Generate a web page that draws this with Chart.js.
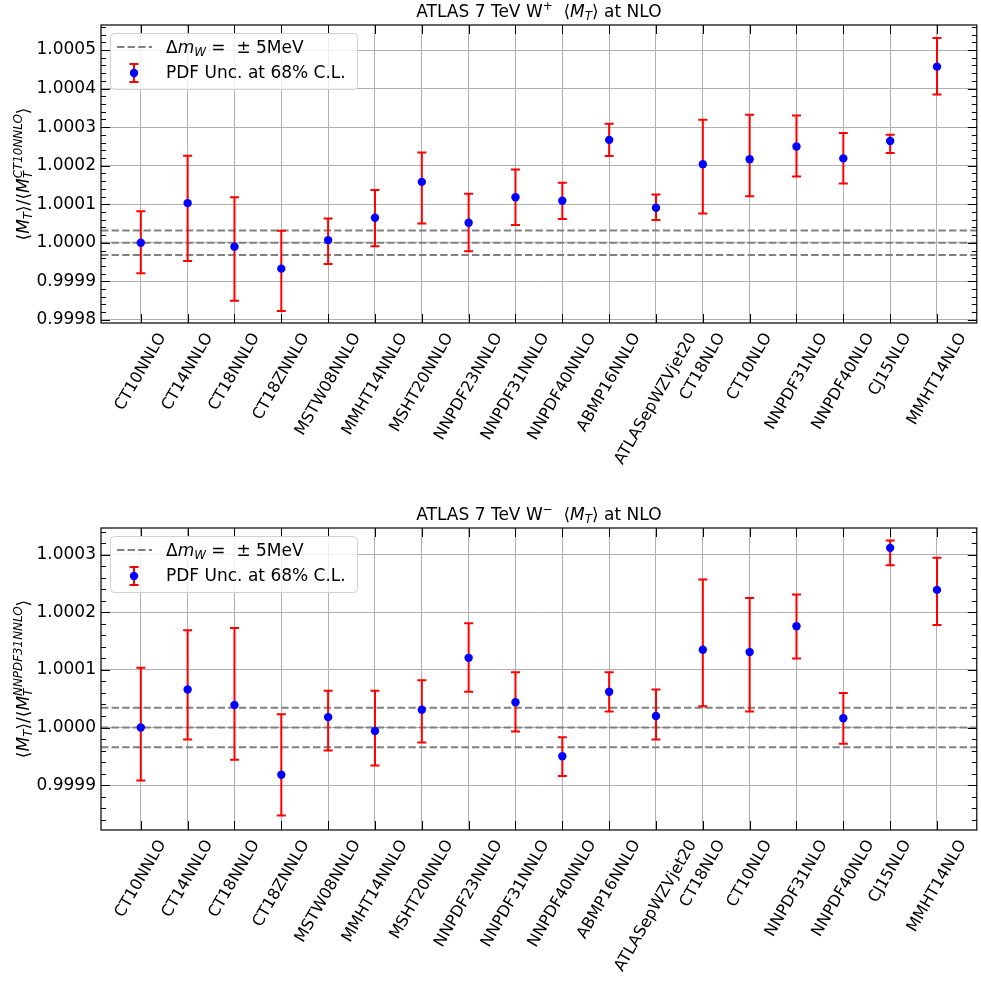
<!DOCTYPE html>
<html>
<head>
<meta charset="utf-8">
<script src="https://cdn.jsdelivr.net/npm/chart.js@4.4.1/dist/chart.umd.min.js"></script>
<style>
  body { margin: 0; background: #fff; }
  #wrap { position: relative; width: 981px; height: 985px; }
  #plus { position: absolute; left: 0; top: 0; }
  #minus { position: absolute; left: 0; top: 490px; }
</style>
</head>
<body>
<div id="wrap">
  <canvas id="plus" width="981" height="490"></canvas>
  <canvas id="minus" width="981" height="495"></canvas>
</div>
<script>
const pdfSets = ['CT10NNLO', 'CT14NNLO', 'CT18NNLO', 'CT18ZNNLO', 'MSTW08NNLO', 'MMHT14NNLO',
  'MSHT20NNLO', 'NNPDF23NNLO', 'NNPDF31NNLO', 'NNPDF40NNLO', 'ABMP16NNLO', 'ATLASepWZVjet20',
  'CT18NLO', 'CT10NLO', 'NNPDF31NLO', 'NNPDF40NLO', 'CJ15NLO', 'MMHT14NLO'];

// W+ : ratio to CT10NNLO
const wPlusCentral = [1.000000, 1.000103, 0.999990, 0.999933, 1.000007, 1.000065, 1.000158, 1.000052, 1.000118,
  1.000109, 1.000267, 1.000091, 1.000204, 1.000217, 1.000250, 1.000219, 1.000264, 1.000457];
const wPlusHigh = [1.000082, 1.000226, 1.000118, 1.000031, 1.000063, 1.000137, 1.000234, 1.000127, 1.000190,
  1.000156, 1.000309, 1.000125, 1.000319, 1.000332, 1.000330, 1.000285, 1.000280, 1.000531];
const wPlusLow = [0.999921, 0.999953, 0.999850, 0.999823, 0.999945, 0.999991, 1.000050, 0.999978, 1.000046,
  1.000062, 1.000225, 1.000059, 1.000076, 1.000121, 1.000172, 1.000154, 1.000233, 1.000385];
const wPlusBand = [0.9999682, 1.0000000, 1.0000318];
const wPlusTicks = [0.9998, 0.9999, 1.0000, 1.0001, 1.0002, 1.0003, 1.0004, 1.0005];

// W- : ratio to NNPDF31NNLO
const wMinusCentral = [1.000000, 1.000066, 1.000039, 0.999918, 1.000018, 0.999994, 1.000031, 1.000121, 1.000044,
  0.999950, 1.000062, 1.000020, 1.000135, 1.000131, 1.000176, 1.000016, 1.000312, 1.000239];
const wMinusHigh = [1.000104, 1.000169, 1.000173, 1.000023, 1.000064, 1.000064, 1.000082, 1.000181, 1.000096,
  0.999983, 1.000096, 1.000066, 1.000257, 1.000225, 1.000231, 1.000060, 1.000325, 1.000295];
const wMinusLow = [0.999908, 0.999979, 0.999944, 0.999847, 0.999960, 0.999934, 0.999974, 1.000062, 0.999993,
  0.999916, 1.000028, 0.999979, 1.000037, 1.000028, 1.000120, 0.999972, 1.000282, 1.000178];
const wMinusBand = [0.9999658, 1.0000000, 1.0000342];
const wMinusTicks = [0.9999, 1.0000, 1.0001, 1.0002, 1.0003];

const FONT = "'DejaVu Sans', sans-serif";
const xMin = -0.85, xMax = 17.85;
const minorStep = 0.00002;

function fontOf(size, it) {
  return (it ? 'italic ' : '') + size + 'px ' + FONT;
}

// small mathtext-like renderer: parts {t, it, sub, sup, supIt}
function richWidth(ctx, parts, size) {
  let w = 0;
  parts.forEach(p => {
    ctx.font = fontOf(size, p.it);
    w += ctx.measureText(p.t).width;
    let sw = 0;
    if (p.sub) { ctx.font = fontOf(size * 0.7, true); sw = Math.max(sw, ctx.measureText(p.sub).width); }
    if (p.sup) { ctx.font = fontOf(size * 0.7, p.supIt !== false); sw = Math.max(sw, ctx.measureText(p.sup).width); }
    w += sw;
  });
  return w;
}

function drawRich(ctx, parts, x, y, size) {
  let cx = x - richWidth(ctx, parts, size) / 2;
  ctx.textAlign = 'left';
  ctx.textBaseline = 'alphabetic';
  parts.forEach(p => {
    ctx.font = fontOf(size, p.it);
    ctx.fillText(p.t, cx, y);
    cx += ctx.measureText(p.t).width;
    let sw = 0;
    if (p.sub) {
      ctx.font = fontOf(size * 0.7, true);
      ctx.fillText(p.sub, cx, y + size * 0.2);
      sw = Math.max(sw, ctx.measureText(p.sub).width);
    }
    if (p.sup) {
      ctx.font = fontOf(size * 0.7, p.supIt !== false);
      ctx.fillText(p.sup, cx, y - size * 0.42);
      sw = Math.max(sw, ctx.measureText(p.sup).width);
    }
    cx += sw;
  });
}

const errorBars = {
  id: 'errorBars',
  beforeDatasetDraw(chart, args, opts) {
    if (args.index !== opts.pointIndex) return;
    const c = chart.ctx, xs = chart.scales.x, ys = chart.scales.y;
    c.save();
    c.strokeStyle = 'red';
    c.lineWidth = 2;
    opts.high.forEach((hi, i) => {
      const x = xs.getPixelForValue(i);
      const y1 = ys.getPixelForValue(hi), y2 = ys.getPixelForValue(opts.low[i]);
      c.beginPath();
      c.moveTo(x, y1); c.lineTo(x, y2);
      c.moveTo(x - 4.5, y1); c.lineTo(x + 4.5, y1);
      c.moveTo(x - 4.5, y2); c.lineTo(x + 4.5, y2);
      c.stroke();
    });
    c.restore();
  }
};

const decorations = {
  id: 'decorations',
  afterDraw(chart, args, opts) {
    const c = chart.ctx, a = chart.chartArea, xs = chart.scales.x, ys = chart.scales.y;
    c.save();
    c.fillStyle = 'black';
    c.strokeStyle = 'black';

    // inward ticks on all four sides
    c.lineWidth = 1;
    c.beginPath();
    pdfSets.forEach((_, i) => {
      const x = Math.round(xs.getPixelForValue(i)) + 0.5;
      c.moveTo(x, a.bottom); c.lineTo(x, a.bottom - 9);
      c.moveTo(x, a.top); c.lineTo(x, a.top + 9);
    });
    opts.ticks.forEach(v => {
      const y = Math.round(ys.getPixelForValue(v)) + 0.5;
      c.moveTo(a.left, y); c.lineTo(a.left + 9, y);
      c.moveTo(a.right, y); c.lineTo(a.right - 9, y);
    });
    const start = Math.ceil(ys.min / minorStep);
    for (let k = start; k * minorStep <= ys.max; k++) {
      const v = k * minorStep;
      if (opts.ticks.some(t => Math.abs(t - v) < 1e-9)) continue;
      const y = Math.round(ys.getPixelForValue(v)) + 0.5;
      c.moveTo(a.left, y); c.lineTo(a.left + 5, y);
      c.moveTo(a.right, y); c.lineTo(a.right - 5, y);
    }
    c.stroke();

    // frame
    c.lineWidth = 1.2;
    c.strokeRect(a.left, a.top, a.right - a.left, a.bottom - a.top);

    // rotated category labels
    const xf = 16;
    c.font = fontOf(xf, false);
    c.textAlign = 'center';
    c.textBaseline = 'middle';
    const s60 = Math.sin(Math.PI / 3), c60 = Math.cos(Math.PI / 3), h = xf * 1.16;
    pdfSets.forEach((name, i) => {
      const L = c.measureText(name).width;
      const ext = L * s60 + h * c60;
      c.save();
      c.translate(xs.getPixelForValue(i), a.bottom + 7 + ext / 2);
      c.rotate(-Math.PI / 3);
      c.fillText(name, 0, 0);
      c.restore();
    });

    // title
    drawRich(c, opts.title, (a.left + a.right) / 2, a.top - 8, 17);

    // y axis label
    c.save();
    c.translate(29, (a.top + a.bottom) / 2);
    c.rotate(-Math.PI / 2);
    drawRich(c, opts.ylabel, 0, 0, 17);
    c.restore();

    // legend
    const lx = a.left + 9, ly = a.top + 8, lw = 247, lh = 56;
    c.fillStyle = 'rgba(255,255,255,0.8)';
    c.strokeStyle = '#d0d0d0';
    c.lineWidth = 1;
    c.beginPath();
    c.roundRect(lx + 0.5, ly + 0.5, lw, lh, 4);
    c.fill();
    c.stroke();

    const r1 = a.top + 22, r2 = a.top + 48;
    c.strokeStyle = 'grey';
    c.lineWidth = 2;
    c.setLineDash([7.4, 3.2]);
    c.beginPath();
    c.moveTo(a.left + 16, r1); c.lineTo(a.left + 51, r1);
    c.stroke();
    c.setLineDash([]);

    const mx = a.left + 33;
    c.strokeStyle = 'red';
    c.beginPath();
    c.moveTo(mx, r2 - 9); c.lineTo(mx, r2 + 9);
    c.moveTo(mx - 4.5, r2 - 9); c.lineTo(mx + 4.5, r2 - 9);
    c.moveTo(mx - 4.5, r2 + 9); c.lineTo(mx + 4.5, r2 + 9);
    c.stroke();
    c.fillStyle = 'blue';
    c.beginPath();
    c.arc(mx, r2, 4.2, 0, Math.PI * 2);
    c.fill();

    c.fillStyle = 'black';
    const tx = a.left + 65;
    const line1 = [{ t: 'Δ' }, { t: 'm', it: true, sub: 'W' }, { t: ' = ' }, { t: ' ± 5MeV' }];
    drawRich(c, line1, tx + richWidth(c, line1, 17) / 2, r1 + 6, 17);
    c.font = fontOf(17, false);
    c.textAlign = 'left';
    c.textBaseline = 'middle';
    c.fillText('PDF Unc. at 68% C.L.', tx, r2 + 1);
    c.restore();
  }
};

function makeChart(id, central, low, high, band, ticks, yMin, yMax, padTop, xHeight, title, ylabel) {
  const points = central.map((v, i) => ({ x: i, y: v }));
  const bandSets = band.map(v => ({
    type: 'line',
    data: [{ x: xMin, y: v }, { x: xMax, y: v }],
    borderColor: 'grey',
    borderWidth: 2,
    borderDash: [7.4, 3.2],
    pointRadius: 0,
    order: 2
  }));
  return new Chart(document.getElementById(id).getContext('2d'), {
    type: 'scatter',
    data: {
      datasets: [{
        data: points,
        backgroundColor: 'blue',
        borderWidth: 0,
        pointRadius: 4.2,
        order: 0
      }].concat(bandSets)
    },
    options: {
      responsive: false,
      animation: false,
      layout: { padding: { top: padTop, right: 1, left: 0, bottom: 0 } },
      plugins: {
        legend: { display: false },
        tooltip: { enabled: false },
        errorBars: { pointIndex: 0, low: low, high: high },
        decorations: { ticks: ticks, title: title, ylabel: ylabel }
      },
      scales: {
        x: {
          type: 'linear',
          min: xMin,
          max: xMax,
          afterBuildTicks: s => { s.ticks = pdfSets.map((_, i) => ({ value: i })); },
          afterFit: s => { s.height = xHeight; },
          ticks: { display: false },
          grid: { color: '#b0b0b0', lineWidth: 1, drawTicks: false },
          border: { display: false }
        },
        y: {
          min: yMin,
          max: yMax,
          afterBuildTicks: s => { s.ticks = ticks.map(v => ({ value: v })); },
          afterFit: s => { s.width = 101; },
          ticks: {
            color: 'black',
            padding: 5,
            font: { family: FONT, size: 17 },
            callback: v => v.toFixed(4)
          },
          grid: { color: '#b0b0b0', lineWidth: 1, drawTicks: false },
          border: { display: false }
        }
      }
    },
    plugins: [errorBars, decorations]
  });
}

makeChart('plus', wPlusCentral, wPlusLow, wPlusHigh, wPlusBand, wPlusTicks, 0.999792, 1.000565, 25, 167,
  [{ t: 'ATLAS 7 TeV W', sup: '+', supIt: false }, { t: '  ⟨' }, { t: 'M', it: true, sub: 'T' }, { t: '⟩ at NLO' }],
  [{ t: '⟨' }, { t: 'M', it: true, sub: 'T' }, { t: '⟩/⟨' }, { t: 'M', it: true, sub: 'T', sup: 'CT10NNLO' }, { t: '⟩' }]);

makeChart('minus', wMinusCentral, wMinusLow, wMinusHigh, wMinusBand, wMinusTicks, 0.999822, 1.0003465, 38, 155,
  [{ t: 'ATLAS 7 TeV W', sup: '−', supIt: false }, { t: '  ⟨' }, { t: 'M', it: true, sub: 'T' }, { t: '⟩ at NLO' }],
  [{ t: '⟨' }, { t: 'M', it: true, sub: 'T' }, { t: '⟩/⟨' }, { t: 'M', it: true, sub: 'T', sup: 'NNPDF31NNLO' }, { t: '⟩' }]);
</script>
</body>
</html>
